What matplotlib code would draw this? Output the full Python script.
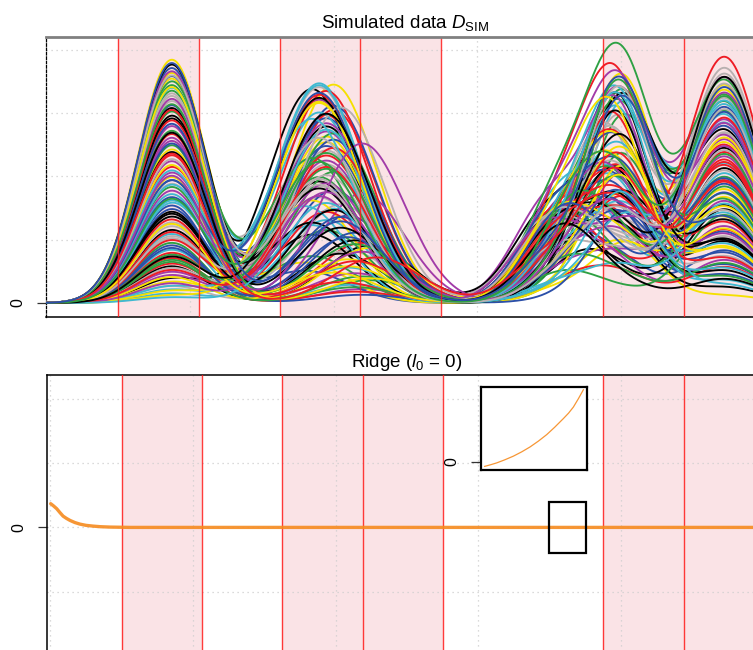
import numpy as np
import matplotlib
matplotlib.use("Agg")
import matplotlib.pyplot as plt
from matplotlib.patches import Rectangle

plt.rcParams['font.family'] = ['Liberation Sans', 'DejaVu Sans']
plt.rcParams['mathtext.fontset'] = 'custom'
plt.rcParams['mathtext.rm'] = 'Liberation Sans'
plt.rcParams['mathtext.it'] = 'Liberation Sans:italic'

# ---------------- data ----------------
palette = ['#000000', '#EE1C25', '#2EA043', '#2B4FA8', '#3FB8D0', '#A23BA8', '#F5E000', '#B8B0B0']

# shaded intervals (domain 0..1) and their boundary lines
shaded = [(0.1, 0.2125), (0.325, 0.4375), (0.4375, 0.55), (0.775, 0.8875), (0.8875, 1.0)]
red_lines = [0.1, 0.2125, 0.325, 0.4375, 0.55, 0.775, 0.8875, 1.0]

# bump parameters of each simulated curve
cA, sA = 0.175, 0.047
sB, sS, sC = 0.06, 0.05, 0.045
cD, sD = 0.944, 0.052

aA = [2.91, 0.62, 3.35, 1.48, 0.15, 2.24, 3.84, 1.02, 0.38, 2.67,
      1.83, 3.12, 0.84, 2.05, 3.54, 0.27, 1.36, 2.88, 0.95, 3.71,
      1.61, 0.49, 2.42, 3.27, 1.15, 0.71, 3.02, 1.94, 0.21, 2.56,
      3.63, 1.27, 0.58, 2.14, 3.44, 0.91, 1.72, 2.79, 0.33, 3.18,
      1.41, 2.33, 0.68, 3.58, 1.09, 2.61, 0.12, 1.88, 3.08, 0.79,
      2.49, 1.54, 3.39, 0.44, 2.18, 1.21, 3.76, 0.99, 2.72, 1.67,
      0.26, 3.22, 1.99, 0.55, 2.95, 1.32, 3.49, 0.87, 2.09, 1.77,
      0.41, 3.31, 2.38, 1.12, 0.65, 2.83, 1.57, 3.66, 0.19, 2.27,
      1.44, 3.05, 0.76, 2.52, 1.86, 0.31, 3.41, 1.05, 2.69, 0.52,
      3.14, 1.93, 0.09, 2.01, 1.25, 3.59, 0.73, 2.36, 1.64, 3.79]

aB = [1.92, 3.05, 0.74, 2.48, 1.31, 0.22, 3.45, 1.67, 3.38, 0.95,
      2.12, 0.51, 1.49, 3.21, 2.63, 0.83, 1.08, 2.97, 0.36, 1.78,
      3.47, 2.25, 0.64, 1.56, 2.79, 0.18, 1.99, 3.12, 1.23, 0.47,
      2.54, 1.85, 0.91, 3.29, 2.07, 1.38, 0.29, 2.71, 1.62, 3.41,
      0.78, 2.33, 1.15, 2.92, 0.56, 1.73, 3.16, 2.41, 0.99, 1.44,
      2.68, 0.13, 3.01, 1.89, 0.69, 2.19, 1.27, 3.35, 0.42, 2.58,
      1.53, 2.84, 0.87, 1.96, 3.24, 0.33, 2.29, 1.11, 2.74, 1.69,
      0.58, 3.09, 1.81, 2.45, 0.25, 1.36, 2.91, 0.81, 3.18, 2.02,
      1.47, 0.66, 2.37, 1.04, 3.44, 1.75, 0.39, 2.61, 1.19, 2.15,
      0.93, 3.32, 1.58, 2.52, 0.48, 1.87, 2.99, 0.72, 2.23, 1.29]

cB = [0.38, 0.40, 0.37, 0.39, 0.39, 0.44, 0.40, 0.38, 0.37, 0.44,
      0.39, 0.36, 0.40, 0.38, 0.39, 0.42, 0.37, 0.39, 0.45, 0.40,
      0.38, 0.39, 0.36, 0.41, 0.39, 0.43, 0.38, 0.40, 0.37, 0.43,
      0.39, 0.38, 0.45, 0.38, 0.40, 0.42, 0.43, 0.39, 0.37, 0.38,
      0.41, 0.39, 0.39, 0.39, 0.42, 0.44, 0.38, 0.39, 0.43, 0.39,
      0.40, 0.44, 0.38, 0.39, 0.42, 0.39, 0.37, 0.39, 0.44, 0.40,
      0.36, 0.39, 0.45, 0.38, 0.38, 0.41, 0.37, 0.43, 0.39, 0.38,
      0.42, 0.41, 0.38, 0.40, 0.43, 0.41, 0.37, 0.44, 0.38, 0.39,
      0.40, 0.43, 0.39, 0.42, 0.38, 0.39, 0.45, 0.38, 0.41, 0.39,
      0.43, 0.38, 0.39, 0.44, 0.40, 0.38, 0.39, 0.46, 0.38, 0.41]

aS = [0.92, 1.35, 0.41, 1.12, 0.67, 1.58, 0.23, 1.04, 1.41, 0.55,
      1.21, 0.78, 1.63, 0.34, 0.97, 1.27, 0.62, 1.48, 0.15, 1.09,
      0.86, 1.52, 0.45, 1.18, 0.72, 1.39, 0.29, 1.01, 1.66, 0.59,
      1.14, 0.81, 1.45, 0.38, 0.94, 1.31, 0.51, 1.24, 0.19, 1.07,
      0.75, 1.55, 1.70, 0.64, 1.17, 0.88, 1.43, 0.27, 1.03, 1.36,
      0.49, 1.22, 0.83, 1.61, 0.36, 0.99, 1.29, 0.57, 1.47, 0.11,
      1.11, 0.69, 1.38, 0.91, 0.43, 1.26, 0.79, 0.90, 0.31, 1.06,
      0.95, 1.33, 0.53, 1.19, 0.71, 1.49, 0.25, 0.89, 1.42, 0.61,
      1.16, 0.77, 1.57, 0.39, 1.02, 1.28, 0.47, 1.37, 0.84, 1.13,
      0.66, 1.44, 0.21, 0.97, 1.32, 0.58, 1.23, 0.74, 1.51, 0.87]

cS = [0.720, 0.710, 0.735, 0.715, 0.730, 0.700, 0.720, 0.745, 0.710, 0.730,
      0.715, 0.735, 0.720, 0.700, 0.730, 0.715, 0.745, 0.710, 0.720, 0.735,
      0.700, 0.720, 0.715, 0.730, 0.745, 0.710, 0.720, 0.735, 0.715, 0.730,
      0.710, 0.720, 0.700, 0.735, 0.715, 0.730, 0.745, 0.720, 0.710, 0.715,
      0.730, 0.720, 0.715, 0.735, 0.710, 0.720, 0.730, 0.700, 0.715, 0.735,
      0.720, 0.710, 0.730, 0.715, 0.745, 0.720, 0.700, 0.730, 0.715, 0.735,
      0.710, 0.720, 0.730, 0.715, 0.735, 0.710, 0.720, 0.715, 0.715, 0.730,
      0.720, 0.700, 0.735, 0.715, 0.730, 0.710, 0.720, 0.745, 0.715, 0.730,
      0.710, 0.720, 0.735, 0.715, 0.730, 0.700, 0.720, 0.710, 0.735, 0.715,
      0.730, 0.720, 0.710, 0.745, 0.715, 0.730, 0.720, 0.700, 0.735, 0.715]

aC = [1.83, 1.12, 2.75, 0.54, 1.67, 3.13, 0.92, 2.07, 0.31, 1.45,
      2.85, 1.23, 0.70, 1.96, 3.25, 0.99, 1.73, 0.45, 2.29, 1.34,
      3.03, 0.81, 1.56, 2.18, 0.24, 1.89, 3.23, 1.07, 1.62, 0.60,
      2.36, 1.27, 3.08, 0.37, 1.79, 1.42, 2.78, 0.87, 2.11, 0.73,
      1.50, 3.18, 3.60, 1.17, 2.24, 0.50, 1.69, 2.88, 1.03, 2.01,
      0.14, 2.33, 1.31, 3.20, 0.77, 1.84, 1.54, 2.71, 0.41, 1.39,
      3.11, 0.96, 2.05, 0.65, 2.81, 1.21, 1.75, 3.30, 0.53, 1.59,
      2.20, 0.89, 3.04, 1.47, 0.28, 1.92, 1.28, 2.69, 0.82, 3.16,
      1.10, 2.13, 0.58, 1.65, 2.90, 1.16, 1.86, 0.69, 2.30, 1.37,
      3.24, 0.47, 1.71, 1.01, 2.75, 1.24, 0.20, 1.98, 1.50, 3.06]

cC = [0.800, 0.795, 0.805, 0.800, 0.790, 0.800, 0.810, 0.795, 0.800, 0.805,
      0.800, 0.795, 0.790, 0.800, 0.805, 0.800, 0.795, 0.810, 0.800, 0.800,
      0.805, 0.795, 0.800, 0.790, 0.800, 0.805, 0.800, 0.795, 0.800, 0.810,
      0.795, 0.800, 0.805, 0.800, 0.790, 0.800, 0.795, 0.805, 0.800, 0.800,
      0.810, 0.795, 0.800, 0.805, 0.800, 0.790, 0.800, 0.795, 0.805, 0.800,
      0.800, 0.795, 0.810, 0.800, 0.805, 0.795, 0.800, 0.790, 0.800, 0.805,
      0.795, 0.800, 0.800, 0.810, 0.795, 0.805, 0.800, 0.800, 0.800, 0.790,
      0.805, 0.800, 0.795, 0.800, 0.810, 0.800, 0.805, 0.795, 0.800, 0.800,
      0.790, 0.800, 0.805, 0.795, 0.800, 0.810, 0.800, 0.795, 0.805, 0.800,
      0.800, 0.795, 0.800, 0.805, 0.790, 0.800, 0.810, 0.795, 0.800, 0.805]

aD = [2.44, 1.16, 3.02, 0.83, 2.21, 3.55, 0.12, 2.67, 1.48, 1.93,
      3.28, 0.61, 2.05, 2.89, 1.34, 3.71, 0.97, 2.38, 1.72, 0.45,
      2.96, 1.61, 3.44, 0.74, 2.13, 1.27, 3.17, 1.88, 0.36, 2.58,
      3.36, 1.05, 2.72, 0.57, 1.99, 3.09, 1.42, 2.31, 0.89, 3.62,
      1.53, 2.49, 3.51, 1.12, 2.84, 0.68, 1.79, 3.23, 0.25, 2.17,
      1.39, 3.01, 0.93, 2.64, 1.67, 3.46, 0.51, 2.26, 1.84, 0.79,
      3.13, 1.21, 2.53, 2.09, 1.01, 3.88, 0.42, 2.78, 1.57, 3.32,
      0.86, 2.41, 1.31, 2.92, 0.63, 1.96, 3.19, 1.09, 2.61, 1.45,
      3.57, 0.71, 2.35, 1.74, 0.29, 2.83, 1.52, 3.06, 0.98, 2.22,
      1.63, 3.41, 0.55, 2.47, 1.17, 2.69, 0.38, 1.91, 3.26, 1.35]

# ridge coefficient curve (bottom panel)
ridge_t = [0.0006, 0.0045, 0.009, 0.0136, 0.018, 0.0227, 0.0276, 0.0346, 0.0416,
           0.05, 0.06, 0.07, 0.0836, 0.112, 0.3, 0.6, 1.0]
ridge_v = [0.369, 0.335, 0.291, 0.23, 0.175, 0.14, 0.109, 0.075, 0.051,
           0.032, 0.020, 0.011, 0.005, 0.0, 0.0, 0.0, 0.0]

# inset curve
inset_x = [0.0, 0.06, 0.122, 0.2, 0.29, 0.375, 0.46, 0.545, 0.629, 0.71, 0.797, 0.85, 0.899, 0.95, 1.0]
inset_y = [-0.058, -0.037, -0.013, 0.025, 0.074, 0.13, 0.194, 0.27, 0.354, 0.45, 0.561,
           0.632, 0.711, 0.82, 0.935]

# ---------------- figure ----------------
W, H = 753, 650
fig = plt.figure(figsize=(W / 100, H / 100), dpi=100)

def gauss(t, c, s):
    return np.exp(-0.5 * ((t - c) / s) ** 2)

def decorate(ax, xgrid, ygrid):
    for a, b in shaded:
        ax.axvspan(a, b, color='#FAE3E6', lw=0, zorder=0)
    for g in xgrid:
        ax.axvline(g, color='#CFCFCF', ls=(0, (1, 3)), lw=0.9, zorder=1)
    for g in ygrid:
        ax.axhline(g, color='#CFCFCF', ls=(0, (1, 3)), lw=0.9, zorder=1)
    for x in red_lines:
        ax.axvline(x, color='#FF1A1A', lw=1.0, alpha=0.85, zorder=6)
    ax.set_xticks([])
    ax.set_yticks([0])
    ax.set_yticklabels(['0'], rotation=90, va='center')
    ax.tick_params(axis='y', length=6.5, width=0.9, pad=8, labelsize=11.5, color='#333333')

# --- top panel ---
ax1 = fig.add_axes([46 / W, 1 - 317 / H, 718.75 / W, 280 / H])
ax1.set_xlim(0, 1)
ax1.set_ylim(-0.221, 4.202)
decorate(ax1, [0.2, 0.4, 0.6, 0.8], [1, 2, 3, 4])

t = np.linspace(0, 1, 700)
for i in range(len(aA)):
    y = (aA[i] * gauss(t, cA, sA) + aB[i] * gauss(t, cB[i], sB)
         + aS[i] * gauss(t, cS[i], sS) + aC[i] * gauss(t, cC[i], sC)
         + aD[i] * gauss(t, cD, sD))
    ax1.plot(t, y, color=palette[i % len(palette)], lw=1.35, zorder=3)

ax1.spines['top'].set_color('#808080')
ax1.spines['top'].set_linewidth(2.0)
ax1.spines['top'].set_zorder(8)
ax1.spines['left'].set_linestyle((0, (2, 1.5)))
ax1.spines['left'].set_linewidth(0.9)
ax1.spines['bottom'].set_linewidth(1.1)
ax1.spines['right'].set_visible(False)
ax1.set_title(r'Simulated data $D_{\mathrm{SIM}}$', fontsize=13.5, pad=6.5)

# --- bottom panel ---
ax2 = fig.add_axes([46.7 / W, 1 - 679.8 / H, 719.4 / W, 304.8 / H])
ax2.set_xlim(-0.005, 1.003)
ax2.set_ylim(-2.37, 2.37)
decorate(ax2, [0.0, 0.2, 0.4, 0.6, 0.8], [-2, -1, 1, 2])
ax2.axhline(0, color='#CFCFCF', ls=(0, (1, 3)), lw=0.9, zorder=1)
ax2.plot(ridge_t, ridge_v, color='#F68B1F', lw=2.4, alpha=0.9, zorder=7,
         solid_capstyle='round', solid_joinstyle='round')
for s in ['left', 'top']:
    ax2.spines[s].set_linewidth(1.1)
ax2.spines['right'].set_visible(False)
ax2.set_title(r'Ridge ($l_0$ = 0)', fontsize=13.5, pad=6)

# --- inset ---
axin = fig.add_axes([480.7 / W, 1 - 470 / H, 106.6 / W, 83.3 / H])
axin.set_facecolor('white')
axin.plot(inset_x, inset_y, color='#F68B1F', lw=0.9, alpha=0.9, solid_joinstyle='round')
axin.set_xlim(-0.04, 1.04)
axin.set_ylim(-0.105, 0.975)
axin.set_xticks([])
axin.set_yticks([0])
axin.set_yticklabels(['0'], rotation=90, va='center')
axin.tick_params(axis='y', length=7, width=0.9, pad=8, labelsize=11.5, color='#333333')
for s in axin.spines.values():
    s.set_linewidth(1.6)

# zoom-window rectangle
box_px = (549, 501.7, 585.7, 553.3)
fig.add_artist(Rectangle((box_px[0] / W, 1 - box_px[3] / H),
                         (box_px[2] - box_px[0]) / W, (box_px[3] - box_px[1]) / H,
                         transform=fig.transFigure, fill=False, ec='black', lw=1.6, zorder=20))

fig.savefig('out.png', dpi=100)
